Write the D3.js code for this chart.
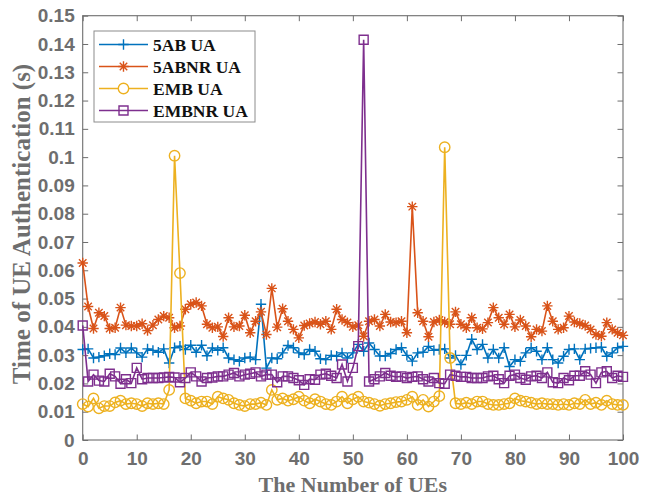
<!DOCTYPE html>
<html>
<head>
<meta charset="utf-8">
<script src="https://cdn.jsdelivr.net/npm/d3@7"></script>
<style>
  body { margin: 0; background: #fff; }
  svg { display: block; }
</style>
</head>
<body>
<div id="chart"></div>
<script>
// values, one per UE index 0..100
var seriesNames = ["5AB UA", "5ABNR UA", "EMB UA", "EMBNR UA"];

var ua5ab = [
  0.0320, 0.0322, 0.0290, 0.0293, 0.0298, 0.0305, 0.0302, 0.0325, 0.0308, 0.0325,
  0.0308, 0.0293, 0.0322, 0.0317, 0.0310, 0.0322, 0.0272, 0.0326, 0.0332, 0.0320,
  0.0335, 0.0310, 0.0335, 0.0298, 0.0325, 0.0317, 0.0326, 0.0290, 0.0284, 0.0278,
  0.0290, 0.0293, 0.0284, 0.0480, 0.0254, 0.0290, 0.0287, 0.0308, 0.0334, 0.0326,
  0.0308, 0.0302, 0.0320, 0.0314, 0.0287, 0.0284, 0.0299, 0.0296, 0.0308, 0.0290,
  0.0308, 0.0338, 0.0314, 0.0343, 0.0320, 0.0297, 0.0297, 0.0306, 0.0320, 0.0326,
  0.0299, 0.0279, 0.0308, 0.0310, 0.0331, 0.0317, 0.0320, 0.0322, 0.0290, 0.0299,
  0.0267, 0.0299, 0.0356, 0.0320, 0.0338, 0.0290, 0.0320, 0.0290, 0.0326, 0.0260,
  0.0284, 0.0278, 0.0308, 0.0326, 0.0314, 0.0284, 0.0326, 0.0284, 0.0272, 0.0296,
  0.0320, 0.0322, 0.0284, 0.0322, 0.0324, 0.0326, 0.0328, 0.0296, 0.0308, 0.0326,
  0.0331
];

var ua5abnr = [
  0.0626, 0.0472, 0.0394, 0.0450, 0.0438, 0.0394, 0.0397, 0.0468, 0.0406, 0.0403,
  0.0403, 0.0411, 0.0387, 0.0406, 0.0426, 0.0438, 0.0432, 0.0397, 0.0403, 0.0462,
  0.0480, 0.0486, 0.0474, 0.0409, 0.0397, 0.0400, 0.0366, 0.0432, 0.0400, 0.0403,
  0.0441, 0.0379, 0.0420, 0.0453, 0.0373, 0.0536, 0.0399, 0.0464, 0.0420, 0.0391,
  0.0361, 0.0405, 0.0412, 0.0417, 0.0409, 0.0420, 0.0391, 0.0462, 0.0426, 0.0415,
  0.0400, 0.0406, 0.0367, 0.0420, 0.0426, 0.0403, 0.0444, 0.0417, 0.0415, 0.0420,
  0.0379, 0.0825, 0.0450, 0.0420, 0.0365, 0.0417, 0.0424, 0.0417, 0.0409, 0.0453,
  0.0409, 0.0397, 0.0432, 0.0397, 0.0393, 0.0415, 0.0468, 0.0432, 0.0409, 0.0444,
  0.0400, 0.0424, 0.0403, 0.0365, 0.0391, 0.0385, 0.0474, 0.0420, 0.0391, 0.0397,
  0.0438, 0.0417, 0.0412, 0.0405, 0.0391, 0.0373, 0.0367, 0.0415, 0.0391, 0.0379,
  0.0370
];

var uaEmb = [
  0.0127, 0.0118, 0.0147, 0.0112, 0.0120, 0.0120, 0.0133, 0.0139, 0.0127, 0.0130,
  0.0127, 0.0120, 0.0130, 0.0127, 0.0130, 0.0127, 0.0177, 0.1005, 0.0590, 0.0147,
  0.0139, 0.0130, 0.0136, 0.0136, 0.0127, 0.0153, 0.0147, 0.0142, 0.0130, 0.0124,
  0.0120, 0.0127, 0.0127, 0.0132, 0.0124, 0.0177, 0.0142, 0.0147, 0.0139, 0.0144,
  0.0153, 0.0139, 0.0130, 0.0144, 0.0136, 0.0127, 0.0124, 0.0136, 0.0153, 0.0130,
  0.0144, 0.0153, 0.0136, 0.0132, 0.0127, 0.0121, 0.0127, 0.0130, 0.0134, 0.0136,
  0.0142, 0.0153, 0.0124, 0.0142, 0.0118, 0.0136, 0.0155, 0.1035, 0.0290, 0.0130,
  0.0127, 0.0132, 0.0127, 0.0136, 0.0136, 0.0127, 0.0124, 0.0124, 0.0127, 0.0130,
  0.0147, 0.0139, 0.0136, 0.0132, 0.0127, 0.0130, 0.0127, 0.0127, 0.0124, 0.0127,
  0.0124, 0.0130, 0.0127, 0.0142, 0.0127, 0.0132, 0.0124, 0.0139, 0.0127, 0.0124,
  0.0124
];

var uaEmbnr = [
  0.0405, 0.0207, 0.0231, 0.0210, 0.0207, 0.0234, 0.0225, 0.0199, 0.0215, 0.0201,
  0.0255, 0.0215, 0.0219, 0.0219, 0.0219, 0.0221, 0.0223, 0.0221, 0.0204, 0.0219,
  0.0239, 0.0225, 0.0207, 0.0219, 0.0221, 0.0225, 0.0225, 0.0231, 0.0237, 0.0225,
  0.0231, 0.0234, 0.0239, 0.0225, 0.0231, 0.0231, 0.0204, 0.0225, 0.0225, 0.0219,
  0.0211, 0.0195, 0.0215, 0.0213, 0.0231, 0.0234, 0.0227, 0.0219, 0.0267, 0.0207,
  0.0255, 0.0332, 0.1415, 0.0207, 0.0215, 0.0225, 0.0237, 0.0227, 0.0223, 0.0225,
  0.0219, 0.0223, 0.0225, 0.0215, 0.0207, 0.0219, 0.0201, 0.0199, 0.0231, 0.0227,
  0.0223, 0.0223, 0.0219, 0.0219, 0.0219, 0.0225, 0.0227, 0.0215, 0.0201, 0.0227,
  0.0231, 0.0219, 0.0213, 0.0225, 0.0227, 0.0219, 0.0239, 0.0204, 0.0201, 0.0219,
  0.0211, 0.0227, 0.0227, 0.0243, 0.0231, 0.0201, 0.0239, 0.0243, 0.0219, 0.0227,
  0.0223
];

var xTicks = [0, 10, 20, 30, 40, 50, 60, 70, 80, 90, 100];
var yTicks = [0, 0.01, 0.02, 0.03, 0.04, 0.05, 0.06, 0.07, 0.08, 0.09, 0.1,
              0.11, 0.12, 0.13, 0.14, 0.15];
var yTickText = ["0", "0.01", "0.02", "0.03", "0.04", "0.05", "0.06", "0.07", "0.08",
                 "0.09", "0.1", "0.11", "0.12", "0.13", "0.14", "0.15"];

function init() {

    var width = 648;
    var height = 497;
    var margin = {top: 15.7, right: 25, bottom: 57, left: 82.7};
    var innerW = 623 - margin.left;
    var innerH = 440 - margin.top;

    var axisGray = "#6e6e6e";
    var colors = ["#0072BD", "#D95319", "#EDB120", "#7E2F8E"];
    var markers = ["plus", "star", "circle", "square"];
    var allSeries = [ua5ab, ua5abnr, uaEmb, uaEmbnr];

    var svg = d3.select("#chart")
        .append("svg")
        .attr("width", width)
        .attr("height", height)
        .style("font-family", "'Liberation Serif', 'Times New Roman', serif");

    var g = svg.append("g")
        .attr("transform", "translate(" + margin.left + "," + margin.top + ")");

    var x = d3.scaleLinear().domain([0, 100]).range([0, innerW]);
    var y = d3.scaleLinear().domain([0, 0.15]).range([innerH, 0]);

    // axes, ticks pointing inwards like matlab
    var xAxis = d3.axisBottom(x).tickValues(xTicks).tickSizeInner(-5.5).tickSizeOuter(0).tickPadding(12);
    var yAxis = d3.axisLeft(y).tickValues(yTicks).tickSizeInner(-5.5).tickSizeOuter(0).tickPadding(8)
        .tickFormat(function(d, i) { return yTickText[i]; });

    g.append("g")
        .attr("transform", "translate(0," + innerH + ")")
        .call(xAxis);
    g.append("g").call(yAxis);

    // top and right ticks
    g.append("g").call(d3.axisTop(x).tickValues(xTicks).tickSizeInner(-5.5).tickSizeOuter(0).tickFormat(""));
    g.append("g").attr("transform", "translate(" + innerW + ",0)")
        .call(d3.axisRight(y).tickValues(yTicks).tickSizeInner(-5.5).tickSizeOuter(0).tickFormat(""));

    g.selectAll(".domain").remove();
    g.selectAll(".tick line").attr("stroke", axisGray).attr("stroke-width", 1);
    g.selectAll(".tick text")
        .attr("fill", axisGray)
        .style("font-size", "19px")
        .style("font-weight", "bold");

    g.append("rect")
        .attr("width", innerW)
        .attr("height", innerH)
        .attr("fill", "none")
        .attr("stroke", axisGray)
        .attr("stroke-width", 1.1);

    function markerPath(type, s) {
        if (type == "plus") return "M" + (-s) + ",0H" + s + "M0," + (-s) + "V" + s;
        if (type == "star") {
            var d = s * 0.72;
            return "M" + (-s) + ",0H" + s + "M0," + (-s) + "V" + s +
                "M" + (-d) + "," + (-d) + "L" + d + "," + d + "M" + (-d) + "," + d + "L" + d + "," + (-d);
        }
        if (type == "square") return "M" + (-4.5) + "," + (-4.5) + "h9v9h-9z";
        return null;
    }

    var line = d3.line()
        .x(function(d, i) { return x(i); })
        .y(function(d) { return y(d); });

    allSeries.forEach(function(vals, k) {
        var sg = g.append("g");
        sg.append("path")
            .datum(vals)
            .attr("d", line)
            .attr("fill", "none")
            .attr("stroke", colors[k])
            .attr("stroke-width", 1.6);

        if (markers[k] == "circle") {
            sg.selectAll("circle")
                .data(vals)
                .enter()
                .append("circle")
                .attr("cx", function(d, i) { return x(i); })
                .attr("cy", function(d) { return y(d); })
                .attr("r", 5.2)
                .attr("fill", "none")
                .attr("stroke", colors[k])
                .attr("stroke-width", 1.4);
        } else {
            sg.selectAll("path.m")
                .data(vals)
                .enter()
                .append("path")
                .attr("class", "m")
                .attr("transform", function(d, i) { return "translate(" + x(i) + "," + y(d) + ")"; })
                .attr("d", markerPath(markers[k], 5.2))
                .attr("fill", "none")
                .attr("stroke", colors[k])
                .attr("stroke-width", 1.4);
        }
    });

    // legend
    var legend = g.append("g")
        .attr("transform", "translate(" + (94 - margin.left) + "," + (31 - margin.top) + ")");
    legend.append("rect")
        .attr("width", 161)
        .attr("height", 91)
        .attr("fill", "#fff")
        .attr("stroke", "#8c8c8c")
        .attr("stroke-width", 1);

    var item = legend.selectAll("g.item")
        .data(seriesNames)
        .enter()
        .append("g")
        .attr("class", "item")
        .attr("transform", function(d, i) { return "translate(0," + (13.5 + i * 22) + ")"; });

    item.append("line")
        .attr("x1", 5).attr("x2", 54)
        .attr("stroke", function(d, i) { return colors[i]; })
        .attr("stroke-width", 1.6);
    item.each(function(d, i) {
        var it = d3.select(this);
        if (markers[i] == "circle") {
            it.append("circle").attr("cx", 29.5).attr("r", 5.2)
                .attr("fill", "#fff").attr("stroke", colors[i]).attr("stroke-width", 1.4);
        } else {
            it.append("path").attr("transform", "translate(29.5,0)")
                .attr("d", markerPath(markers[i], 5.2))
                .attr("fill", "none").attr("stroke", colors[i]).attr("stroke-width", 1.4);
        }
    });
    item.append("text")
        .attr("x", 59)
        .attr("dy", "0.35em")
        .style("font-size", "17.5px")
        .style("font-weight", "bold")
        .attr("fill", "#111")
        .text(function(d) { return d; });

    // axis titles
    svg.append("text")
        .attr("x", margin.left + innerW / 2)
        .attr("y", 492)
        .attr("text-anchor", "middle")
        .style("font-size", "22px")
        .style("font-weight", "bold")
        .attr("fill", axisGray)
        .text("The Number of UEs");

    svg.append("text")
        .attr("transform", "translate(30,224) rotate(-90)")
        .attr("text-anchor", "middle")
        .style("font-size", "25px")
        .style("font-weight", "bold")
        .attr("fill", axisGray)
        .text("Time of UE Authentication (s)");
}

init();
</script>
</body>
</html>
